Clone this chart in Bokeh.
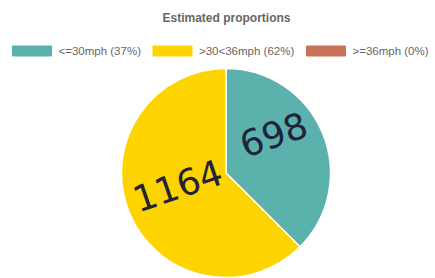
import math
from bokeh.plotting import figure
from bokeh.models import Range1d, ColumnDataSource
from bokeh.core.properties import value
from bokeh.embed import file_html
from bokeh.resources import INLINE

# ---- data ----
categories = ["<=30mph", ">30<36mph", ">=36mph"]
counts = [698, 1164, 0]
percent_labels = ["37%", "62%", "0%"]
colors = ["#5bb2ad", "#fdd400", "#c9715a"]
annotations = ["698", "1164"]  # handwritten counts on the slices
title_text = "Estimated proportions"

W, H = 435, 278
p = figure(width=W, height=H, output_backend="svg", toolbar_location=None,
           x_range=Range1d(0, W), y_range=Range1d(0, H),
           min_border=0, outline_line_color=None)
p.axis.visible = False
p.grid.visible = False
p.background_fill_color = "white"
p.border_fill_color = "white"

def px(x):  # picture pixel -> data x
    return x
def py(y):  # picture pixel -> data y
    return H - y

# ---- pie (zero slices are not drawn) ----
total = sum(counts)
starts, ends, cols = [], [], []
a = math.pi / 2
for c, col in zip(counts, colors):
    b = a - 2 * math.pi * c / total
    if c > 0:
        starts.append(a)
        ends.append(b)
        cols.append(col)
    a = b
src = ColumnDataSource(dict(start=starts, end=ends, color=cols))
cx, cy, r = px(225.5), py(172.5), 104.5
p.wedge(x=cx, y=cy, radius=r, radius_units="screen",
        start_angle="start", end_angle="end", direction="clock",
        fill_color="color", line_color="white", line_width=1.5, source=src)

# ---- handwritten annotations ----
ann_x = [px(273), px(177)]
ann_y = [py(134), py(185)]
p.text(x=ann_x, y=ann_y, text=annotations, angle=0.33,
       text_align="center", text_baseline="middle",
       text_font=value("DejaVu Sans"), text_font_size="36px",
       text_color="#22223a", text_font_style="normal")

# ---- legend (manual, chart.js style) ----
box_left = [12, 152.5, 306]
box_w, box_h = 39, 10
ly = 50.5
p.rect(x=[px(b + box_w / 2) for b in box_left], y=[py(ly)] * 3,
       width=box_w, height=box_h, width_units="screen", height_units="screen",
       fill_color=colors, line_color=colors)
leg_text = [f"{c} ({pc})" for c, pc in zip(categories, percent_labels)]
p.text(x=[px(b + box_w + 7) for b in box_left], y=[py(ly)] * 3, text=leg_text,
       text_align="left", text_baseline="middle",
       text_font=value("Liberation Sans"), text_font_size="11.5px",
       text_color="#666666")

# ---- title ----
p.text(x=[px(226)], y=[py(17.5)], text=[title_text],
       text_align="center", text_baseline="middle",
       text_font=value("Liberation Sans"), text_font_size="12px",
       text_font_style="bold", text_color="#666666")

open("out.html", "w").write(file_html(p, INLINE))
